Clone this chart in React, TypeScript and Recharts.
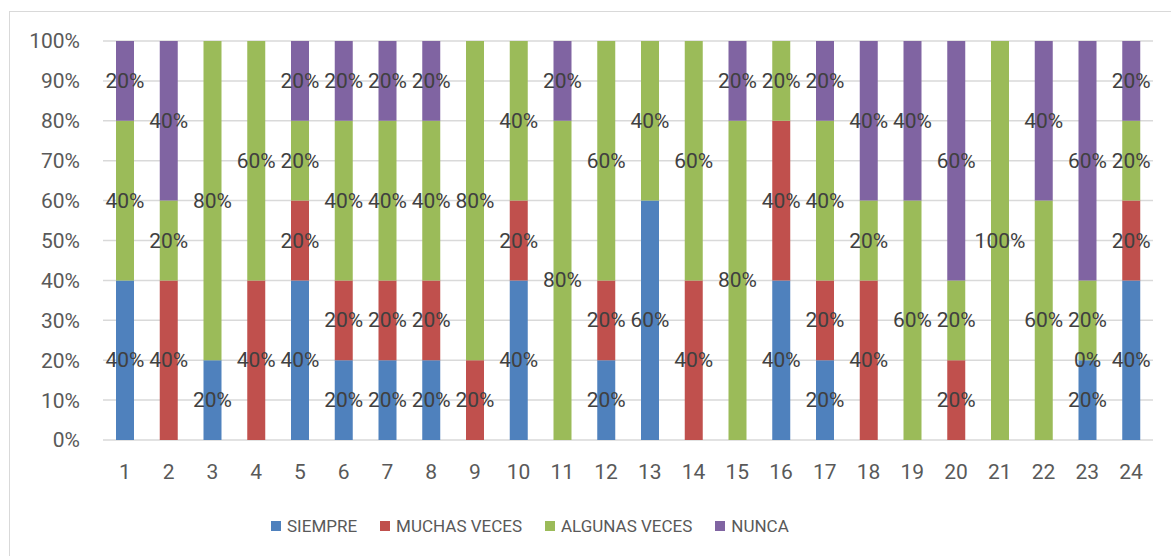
import React from "react";
import { BarChart, Bar, XAxis, YAxis, CartesianGrid } from "recharts";

const CATEGORIES = ["1", "2", "3", "4", "5", "6", "7", "8", "9", "10", "11", "12", "13", "14", "15", "16", "17", "18", "19", "20", "21", "22", "23", "24"];

// null = empty cell (no label), 0 = value shown as "0%"
const SIEMPRE = [40, null, 20, null, 40, 20, 20, 20, null, 40, null, 20, 60, null, null, 40, 20, null, null, null, null, null, 20, 40];
const MUCHAS = [null, 40, null, 40, 20, 20, 20, 20, 20, 20, null, 20, null, 40, null, 40, 20, 40, null, 20, null, null, 0, 20];
const ALGUNAS = [40, 20, 80, 60, 20, 40, 40, 40, 80, 40, 80, 60, 40, 60, 80, 20, 40, 20, 60, 20, 100, 60, 20, 20];
const NUNCA = [20, 40, null, null, 20, 20, 20, 20, null, null, 20, null, null, null, 20, null, 20, 40, 40, 60, null, 40, 60, 20];

const Y_TICKS = [0, 10, 20, 30, 40, 50, 60, 70, 80, 90, 100];

const SERIES = [
  { key: "siempre", name: "SIEMPRE", color: "#4f81bd", values: SIEMPRE },
  { key: "muchas", name: "MUCHAS VECES", color: "#c0504d", values: MUCHAS },
  { key: "algunas", name: "ALGUNAS VECES", color: "#9bbb59", values: ALGUNAS },
  { key: "nunca", name: "NUNCA", color: "#8064a2", values: NUNCA },
];

const data = CATEGORIES.map((c, i) => {
  const row: Record<string, any> = { cat: c };
  SERIES.forEach((s) => { row[s.key] = s.values[i]; });
  return row;
});

const FONT = "Roboto, 'Liberation Sans', sans-serif";
const TICK_STYLE = { fontSize: 21, fontFamily: FONT, fill: "#595959" };

function LabelText({ x, y, v }: { x: number; y: number; v: number }) {
  return (
    <text x={x} y={y} textAnchor="middle" dominantBaseline="central" fill="#404040" fontSize={21} fontFamily={FONT}>
      {v}%
    </text>
  );
}

// recharts only hands labels to non-empty segments, and its index counts those only,
// so map it back to the category. A "0%" cell of the series right below is drawn
// at the base of this segment (it has no rect of its own).
function makeLabel(values: (number | null)[], below?: (number | null)[]) {
  const cats = values.map((v, i) => (v ? i : -1)).filter((i) => i >= 0);
  return (props: any) => {
    const x = Number(props.x), y = Number(props.y), w = Number(props.width), h = Number(props.height);
    const cat = cats[props.index];
    const v = values[cat];
    if (v == null || isNaN(x) || isNaN(y)) return null;
    const zeroBelow = below && below[cat] === 0;
    return (
      <g>
        <LabelText x={x + w / 2} y={y + h / 2} v={v} />
        {zeroBelow && <LabelText x={x + w / 2} y={y + h} v={0} />}
      </g>
    );
  };
}

export default function App() {
  return (
    <div style={{ position: "absolute", left: 0, top: 0, width: 1171, height: 556, background: "#fff", overflow: "hidden" }}>
      {/* chart area border (cut off on the right/bottom) */}
      <div style={{ position: "absolute", left: 9, top: 11, right: -10, bottom: -10, border: "1px solid #d9d9d9" }} />
      <div style={{ position: "absolute", left: 0, top: 0 }}>
        <BarChart width={1171} height={556} data={data} margin={{ top: 41, right: 18, bottom: 86, left: 0 }}>
          <CartesianGrid vertical={false} stroke="#d9d9d9" strokeWidth={1.5} />
          <XAxis
            dataKey="cat"
            interval={0}
            height={30}
            axisLine={false}
            tickLine={false}
            tickSize={0}
            tickMargin={24}
            tick={TICK_STYLE}
          />
          <YAxis
            width={103}
            domain={[0, 100]}
            ticks={Y_TICKS}
            tickFormatter={(v) => `${v}%`}
            axisLine={false}
            tickLine={false}
            tickSize={0}
            tickMargin={23}
            tick={TICK_STYLE}
          />
          {SERIES.map((s, i) => (
            <Bar
              key={s.key}
              dataKey={s.key}
              name={s.name}
              stackId="a"
              fill={s.color}
              barSize={18}
              isAnimationActive={false}
              label={makeLabel(s.values, i > 0 ? SERIES[i - 1].values : undefined)}
            />
          ))}
        </BarChart>
      </div>
      {/* legend */}
      <div style={{ position: "absolute", left: 271, top: 514, display: "flex", alignItems: "center", fontFamily: FONT, fontSize: 17, color: "#595959" }}>
        {SERIES.map((s) => (
          <div key={s.key} style={{ display: "flex", alignItems: "center", marginRight: 23 }}>
            <div style={{ width: 10, height: 10, background: s.color, marginRight: 6 }} />
            <span style={{ lineHeight: "24px" }}>{s.name}</span>
          </div>
        ))}
      </div>
    </div>
  );
}
